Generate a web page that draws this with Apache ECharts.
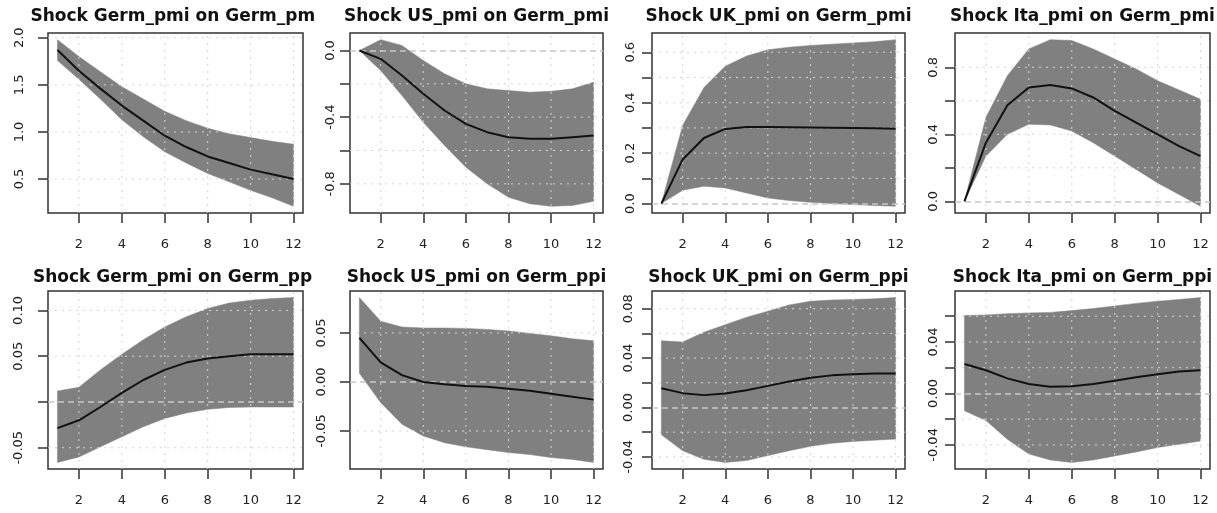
<!DOCTYPE html>
<html>
<head>
<meta charset="utf-8">
<title>Impulse responses</title>
<script src="https://cdn.jsdelivr.net/npm/echarts@6/dist/echarts.min.js"></script>
<style>
  html, body { margin: 0; padding: 0; background: #fff; }
  #chart { width: 1217px; height: 513px; }
</style>
</head>
<body>
<div id="chart"></div>
<script>
// horizon (periods after the shock)
const horizon = [1, 2, 3, 4, 5, 6, 7, 8, 9, 10, 11, 12];
const xTicks = [2, 4, 6, 8, 10, 12];

// panel titles (the first column is cut off in the source figure)
const titles = [
  'Shock Germ_pmi on Germ_pm', 'Shock US_pmi on Germ_pmi', 'Shock UK_pmi on Germ_pmi', 'Shock Ita_pmi on Germ_pmi',
  'Shock Germ_pmi on Germ_pp', 'Shock US_pmi on Germ_ppi', 'Shock UK_pmi on Germ_ppi', 'Shock Ita_pmi on Germ_ppi'
];

// responses of Germ_pmi
const pmiGermIrf = [1.87, 1.65, 1.46, 1.28, 1.12, 0.96, 0.84, 0.74, 0.67, 0.60, 0.55, 0.50];
const pmiGermHi  = [1.98, 1.80, 1.64, 1.48, 1.35, 1.22, 1.12, 1.04, 0.98, 0.94, 0.90, 0.87];
const pmiGermLo  = [1.76, 1.56, 1.35, 1.13, 0.95, 0.79, 0.67, 0.56, 0.47, 0.38, 0.30, 0.21];

const pmiUsIrf = [0, -0.05, -0.15, -0.26, -0.36, -0.44, -0.49, -0.52, -0.53, -0.53, -0.52, -0.51];
const pmiUsHi  = [0, 0.065, 0.03, -0.06, -0.14, -0.20, -0.23, -0.24, -0.25, -0.245, -0.23, -0.19];
const pmiUsLo  = [0, -0.12, -0.27, -0.43, -0.57, -0.70, -0.80, -0.88, -0.92, -0.935, -0.93, -0.905];

const pmiUkIrf = [0, 0.175, 0.26, 0.296, 0.304, 0.304, 0.303, 0.302, 0.301, 0.300, 0.299, 0.297];
const pmiUkHi  = [0, 0.31, 0.46, 0.545, 0.585, 0.61, 0.62, 0.627, 0.632, 0.637, 0.642, 0.65];
const pmiUkLo  = [0, 0.053, 0.069, 0.062, 0.042, 0.022, 0.012, 0.005, 0.0, -0.004, -0.008, -0.011];

const pmiItaIrf = [0, 0.35, 0.574, 0.68, 0.694, 0.674, 0.62, 0.54, 0.47, 0.40, 0.33, 0.27];
const pmiItaHi  = [0, 0.50, 0.75, 0.91, 0.965, 0.96, 0.91, 0.85, 0.79, 0.72, 0.665, 0.61];
const pmiItaLo  = [0, 0.27, 0.40, 0.46, 0.456, 0.42, 0.35, 0.27, 0.19, 0.11, 0.04, -0.03];

// responses of Germ_ppi
const ppiGermIrf = [-0.0285, -0.020, -0.0055, 0.010, 0.024, 0.035, 0.043, 0.0475, 0.050, 0.052, 0.052, 0.052];
const ppiGermHi  = [0.012, 0.016, 0.035, 0.052, 0.068, 0.082, 0.093, 0.102, 0.108, 0.111, 0.113, 0.114];
const ppiGermLo  = [-0.066, -0.060, -0.049, -0.038, -0.027, -0.018, -0.012, -0.008, -0.006, -0.0055, -0.0055, -0.0055];

const ppiUsIrf = [0.045, 0.020, 0.007, 0.0, -0.0024, -0.004, -0.005, -0.007, -0.009, -0.012, -0.015, -0.018];
const ppiUsHi  = [0.086, 0.062, 0.056, 0.055, 0.055, 0.0546, 0.0536, 0.052, 0.0495, 0.047, 0.044, 0.042];
const ppiUsLo  = [0.009, -0.021, -0.043, -0.055, -0.062, -0.066, -0.069, -0.072, -0.074, -0.077, -0.079, -0.082];

const ppiUkIrf = [0.0156, 0.0116, 0.010, 0.0113, 0.014, 0.0175, 0.021, 0.024, 0.026, 0.027, 0.0275, 0.0275];
const ppiUkHi  = [0.054, 0.053, 0.061, 0.067, 0.073, 0.078, 0.083, 0.086, 0.087, 0.0875, 0.088, 0.089];
const ppiUkLo  = [-0.022, -0.035, -0.042, -0.0445, -0.043, -0.039, -0.035, -0.0315, -0.029, -0.0275, -0.0265, -0.0256];

const ppiItaIrf = [0.0229, 0.018, 0.0117, 0.0073, 0.0052, 0.0055, 0.0073, 0.0099, 0.0125, 0.015, 0.017, 0.018];
const ppiItaHi  = [0.0605, 0.061, 0.062, 0.0626, 0.063, 0.0644, 0.066, 0.068, 0.070, 0.0717, 0.073, 0.0745];
const ppiItaLo  = [-0.0135, -0.021, -0.0356, -0.047, -0.0517, -0.0536, -0.0517, -0.0486, -0.0455, -0.042, -0.0395, -0.037];

// y ticks and which of them get a label
const yTicks = [
  [0.5, 1.0, 1.5, 2.0],
  [-0.8, -0.6, -0.4, -0.2, 0.0],
  [0.0, 0.1, 0.2, 0.3, 0.4, 0.5, 0.6],
  [0.0, 0.2, 0.4, 0.6, 0.8],
  [-0.05, 0.0, 0.05, 0.10],
  [-0.05, 0.0, 0.05],
  [-0.04, -0.02, 0.0, 0.02, 0.04, 0.06, 0.08],
  [-0.04, -0.02, 0.0, 0.02, 0.04, 0.06]
];
const yLabels = [
  [0.5, 1.0, 1.5, 2.0],
  [-0.8, -0.4, 0.0],
  [0.0, 0.2, 0.4, 0.6],
  [0.0, 0.4, 0.8],
  [-0.05, 0.05, 0.10],
  [-0.05, 0.0, 0.05],
  [-0.04, 0.0, 0.04, 0.08],
  [-0.04, 0.0, 0.04]
];
const yDecimals = [1, 1, 1, 1, 2, 2, 2, 2];

const irfs = [pmiGermIrf, pmiUsIrf, pmiUkIrf, pmiItaIrf, ppiGermIrf, ppiUsIrf, ppiUkIrf, ppiItaIrf];
const his = [pmiGermHi, pmiUsHi, pmiUkHi, pmiItaHi, ppiGermHi, ppiUsHi, ppiUkHi, ppiItaHi];
const los = [pmiGermLo, pmiUsLo, pmiUkLo, pmiItaLo, ppiGermLo, ppiUsLo, ppiUkLo, ppiItaLo];

// layout (pixels)
const colLeft = [48, 350, 652, 955];
const colWidth = [255, 253, 253, 255];
const rowTop = [33, 291];
const rowHeight = [180, 178];
const yLabelMargin = [22, 13, 15, 15, 23, 22, 17, 15];
const titleTop = [8, 269.5];

const chart = echarts.init(document.getElementById('chart'));

// R-style axis range: data range widened by 4% on each side
const pad = (lo, hi) => [lo - 0.04 * (hi - lo), hi + 0.04 * (hi - lo)];
const xRange = pad(horizon[0], horizon[horizon.length - 1]);

const tickStyle = { color: '#333', width: 1.5 };
const gridStroke = { stroke: '#d4d4d4', lineWidth: 1, lineDash: [2, 5] };
const labelFont = { fontFamily: 'DejaVu Sans', fontSize: 13, color: '#222' };

const grids = [], xAxes = [], yAxes = [], series = [], titleList = [];

irfs.forEach((irf, i) => {
  const col = i % 4, row = Math.floor(i / 4);
  const lo = los[i], hi = his[i];
  const yRange = pad(Math.min(...lo, ...irf), Math.max(...hi, ...irf));

  grids.push({
    left: colLeft[col], top: rowTop[row], width: colWidth[col], height: rowHeight[row],
    show: true, borderColor: '#333', borderWidth: 1.5, backgroundColor: 'transparent'
  });

  xAxes.push({
    type: 'value', gridIndex: i, min: xRange[0], max: xRange[1],
    axisLine: { show: false, onZero: false },
    axisTick: { show: true, length: 10, customValues: xTicks, lineStyle: tickStyle },
    axisLabel: Object.assign({ customValues: xTicks, margin: 25 }, labelFont),
    splitLine: { show: false }
  });

  const dec = yDecimals[i];
  yAxes.push({
    type: 'value', gridIndex: i, min: yRange[0], max: yRange[1],
    axisLine: { show: false, onZero: false },
    axisTick: { show: true, length: 10, customValues: yTicks[i], lineStyle: tickStyle },
    axisLabel: Object.assign({
      customValues: yLabels[i], rotate: 90, margin: yLabelMargin[i],
      formatter: v => v.toFixed(dec)
    }, labelFont),
    splitLine: { show: false }
  });

  // confidence band polygon, then the dotted grid on top of it (as R's grid() does)
  series.push({
    type: 'custom', xAxisIndex: i, yAxisIndex: i, silent: true, animation: false, z: 2,
    data: horizon.map((h, k) => [h, lo[k], hi[k]]),
    encode: { x: 0, y: [1, 2] },
    renderItem: (params, api) => {
      if (params.dataIndex !== 0) return;
      const upper = horizon.map((h, k) => api.coord([h, hi[k]]));
      const lower = horizon.map((h, k) => api.coord([h, lo[k]])).reverse();
      const children = [{
        type: 'polygon',
        shape: { points: upper.concat(lower) },
        style: { fill: '#808080', stroke: '#808080', lineWidth: 0.5 }
      }];
      xTicks.forEach(x => {
        const a = api.coord([x, yRange[0]]), b = api.coord([x, yRange[1]]);
        children.push({ type: 'line', shape: { x1: a[0], y1: a[1], x2: b[0], y2: b[1] }, style: gridStroke });
      });
      yTicks[i].forEach(y => {
        if (y === 0) return; // zero gets the dashed reference line instead
        const a = api.coord([xRange[0], y]), b = api.coord([xRange[1], y]);
        children.push({ type: 'line', shape: { x1: a[0], y1: a[1], x2: b[0], y2: b[1] }, style: gridStroke });
      });
      return { type: 'group', children: children };
    }
  });

  const mid = {
    type: 'line', xAxisIndex: i, yAxisIndex: i, symbol: 'none', silent: true, animation: false,
    z: 5,
    lineStyle: { color: '#111', width: 2 },
    data: horizon.map((h, k) => [h, irf[k]])
  };
  if (yRange[0] < 0 && yRange[1] > 0) {
    mid.markLine = {
      silent: true, symbol: ['none', 'none'], label: { show: false }, animation: false,
      lineStyle: { color: '#c8c8c8', type: [6, 4], width: 1.5 },
      data: [{ yAxis: 0 }]
    };
  }
  series.push(mid);

  // titles: cut-off ones are left aligned where the source text starts
  const cut = col === 0;
  titleList.push({
    text: titles[i],
    left: cut ? (row === 0 ? 30.5 : 33) : colLeft[col] + colWidth[col] / 2,
    textAlign: cut ? 'left' : 'center',
    top: titleTop[row], padding: 0,
    textStyle: { fontFamily: 'DejaVu Sans', fontWeight: 'bold', fontSize: 17, color: '#111' }
  });
});

chart.setOption({
  animation: false,
  backgroundColor: '#fff',
  title: titleList,
  grid: grids,
  xAxis: xAxes,
  yAxis: yAxes,
  series: series
});
</script>
</body>
</html>
